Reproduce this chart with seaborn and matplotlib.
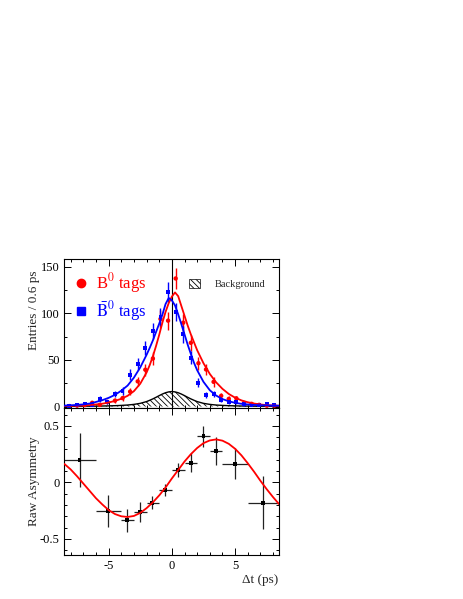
import numpy as np
import pandas as pd
import matplotlib
matplotlib.use("Agg")
import matplotlib.pyplot as plt
from matplotlib.lines import Line2D
from matplotlib.patches import Patch
from matplotlib.ticker import MultipleLocator, FormatStrFormatter
import seaborn as sns

# --- Data ---
# Delta t bin centres (0.6 ps bins)
bin_t = [-8.1, -7.5, -6.9, -6.3, -5.7, -5.1, -4.5, -3.9, -3.3, -2.7, -2.1, -1.5, -0.9, -0.3,
         0.3, 0.9, 1.5, 2.1, 2.7, 3.3, 3.9, 4.5, 5.1, 5.7, 6.3, 6.9, 7.5, 8.1]
b0_counts = [0.5, 1.0, 1.5, 4.0, 1.8, 5.0, 6.3, 9.0, 16.0, 27.0, 39.5, 51.5, 94.0, 92.2,
             137.5, 90.0, 68.4, 46.5, 39.8, 26.5, 11.5, 8.2, 8.8, 3.8, 2.9, 1.8, 1.0, 1.0]
b0_err = [0.7, 1.0, 1.2, 2.0, 1.3, 2.2, 2.5, 3.0, 4.0, 5.2, 6.3, 7.2, 9.7, 9.6,
          11.7, 9.5, 8.3, 6.8, 6.3, 5.1, 3.4, 2.9, 3.0, 1.9, 1.7, 1.3, 1.0, 1.0]
b0bar_counts = [1.0, 1.2, 2.5, 1.5, 8.0, 5.0, 13.3, 17.0, 34.0, 45.5, 62.8, 81.2, 96.1, 123.0,
                101.5, 77.4, 52.5, 25.5, 12.6, 13.4, 7.0, 5.0, 4.5, 2.6, 1.9, 1.3, 2.5, 1.9]
b0bar_err = [1.0, 1.1, 1.6, 1.2, 2.8, 2.2, 3.6, 4.1, 5.8, 6.7, 7.9, 9.0, 9.8, 11.1,
             10.1, 8.8, 7.2, 5.0, 3.5, 3.7, 2.6, 2.2, 2.1, 1.6, 1.4, 1.1, 1.6, 1.4]

# fitted curves
fit_t = [-8.5, -8.0, -7.5, -7.0, -6.5, -6.0, -5.5, -5.0, -4.5, -4.0, -3.5, -3.0, -2.5, -2.0,
         -1.75, -1.5, -1.25, -1.0, -0.75, -0.5, -0.25, 0.0, 0.25, 0.5, 0.75, 1.0, 1.25, 1.5,
         1.75, 2.0, 2.5, 3.0, 3.5, 4.0, 4.5, 5.0, 5.5, 6.0, 6.5, 7.0, 7.5, 8.0, 8.5]
b0_fit = [0.6, 0.7, 0.9, 1.2, 1.6, 2.2, 3.0, 4.3, 6.0, 8.3, 11.5, 16.5, 24.5, 36.5,
          44.5, 54.0, 65.0, 77.0, 90.0, 101.5, 111.0, 118.0, 122.5, 118.5, 108.0, 97.5, 87.0, 77.5,
          69.0, 60.5, 46.5, 35.0, 26.0, 19.0, 13.5, 9.5, 6.6, 4.6, 3.2, 2.2, 1.5, 1.1, 0.8]
b0bar_fit = [1.0, 1.3, 1.7, 2.3, 3.2, 4.9, 6.8, 9.3, 12.5, 17.0, 22.5, 31.0, 42.0, 55.5,
             63.0, 71.0, 80.0, 89.0, 98.5, 110.0, 116.5, 114.0, 108.5, 99.0, 88.5, 77.5, 66.5, 56.5,
             47.0, 39.0, 26.5, 17.5, 11.8, 8.0, 5.6, 4.0, 2.9, 2.2, 1.7, 1.4, 1.2, 1.0, 0.9]
bkg_fit = [0.3, 0.3, 0.3, 0.35, 0.4, 0.45, 0.55, 0.7, 0.9, 1.2, 1.6, 2.3, 3.4, 5.3,
           6.7, 8.2, 9.9, 11.7, 13.4, 14.8, 15.7, 16.1, 15.7, 14.8, 13.4, 11.7, 9.9, 8.2,
           6.7, 5.3, 3.4, 2.3, 1.6, 1.2, 0.9, 0.7, 0.55, 0.45, 0.4, 0.35, 0.3, 0.3, 0.3]

# raw asymmetry, variable-width bins
asym_t = [-7.3, -5.05, -3.55, -2.55, -1.55, -0.53, 0.47, 1.52, 2.5, 3.5, 5.02, 7.23]
asym_lo = [-8.5, -6.0, -4.0, -3.0, -2.0, -1.0, 0.0, 1.0, 2.0, 3.0, 4.0, 6.0]
asym_hi = [-6.0, -4.0, -3.0, -2.0, -1.0, 0.0, 1.0, 2.0, 3.0, 4.0, 6.0, 8.5]
asym = [0.20, -0.253, -0.336, -0.262, -0.181, -0.068, 0.11, 0.176, 0.408, 0.277, 0.164, -0.179]
asym_err = [0.238, 0.138, 0.104, 0.085, 0.057, 0.05, 0.06, 0.085, 0.092, 0.122, 0.137, 0.232]

asym_fit_t = [-8.5, -8.0, -7.5, -7.0, -6.5, -6.0, -5.5, -5.0, -4.5, -4.0, -3.5, -3.0, -2.5, -2.0,
              -1.5, -1.0, -0.5, 0.0, 0.5, 1.0, 1.5, 2.0, 2.5, 3.0, 3.5, 4.0, 4.5, 5.0, 5.5,
              6.0, 6.5, 7.0, 7.5, 8.0, 8.5]
asym_fit = [0.164, 0.115, 0.055, -0.01, -0.075, -0.14, -0.195, -0.245, -0.28, -0.3, -0.306,
            -0.297, -0.27, -0.228, -0.176, -0.115, -0.045, 0.035, 0.11, 0.185, 0.25, 0.305,
            0.348, 0.372, 0.381, 0.37, 0.342, 0.298, 0.24, 0.17, 0.095, 0.015, -0.06, -0.13, -0.195]

RED = "#ff0000"
BLUE = "#0000ff"
HATCH = "\\\\\\\\\\\\"

sns.set_theme(style="ticks")
plt.rcParams["font.family"] = ["Liberation Serif", "DejaVu Serif"]
plt.rcParams["mathtext.fontset"] = "stix"
plt.rcParams["axes.unicode_minus"] = False
plt.rcParams["hatch.linewidth"] = 0.6
plt.rcParams["axes.linewidth"] = 0.8

fig = plt.figure(figsize=(4.63, 5.99), dpi=100)
ax1 = fig.add_axes([0.139, 0.319, 0.463, 0.248])
ax2 = fig.add_axes([0.139, 0.074, 0.463, 0.245])

hist = pd.DataFrame({"t": bin_t, "b0": b0_counts, "b0bar": b0bar_counts})
fits = pd.DataFrame({"t": fit_t, "b0": b0_fit, "b0bar": b0bar_fit, "bkg": bkg_fit})

# --- top panel ---
ax1.fill_between(fits["t"], 0, fits["bkg"], facecolor="none", edgecolor="black",
                 hatch=HATCH, linewidth=0)
sns.lineplot(data=fits, x="t", y="bkg", ax=ax1, color="black", lw=1.0)
ax1.axvline(0, color="black", lw=0.8, zorder=1)

ax1.errorbar(hist["t"], hist["b0"], yerr=b0_err, fmt="none", ecolor=RED, elinewidth=1.0)
sns.scatterplot(data=hist, x="t", y="b0", ax=ax1, color=RED, marker="o", s=10,
                edgecolor="none", zorder=3)
sns.lineplot(data=fits, x="t", y="b0", ax=ax1, color=RED, lw=1.3, zorder=4)

ax1.errorbar(hist["t"], hist["b0bar"], yerr=b0bar_err, fmt="none", ecolor=BLUE, elinewidth=1.0)
sns.scatterplot(data=hist, x="t", y="b0bar", ax=ax1, color=BLUE, marker="s", s=8,
                edgecolor="none", zorder=3)
sns.lineplot(data=fits, x="t", y="b0bar", ax=ax1, color=BLUE, lw=1.3, zorder=4)

ax1.set_xlim(-8.5, 8.45)
ax1.set_ylim(-1.5, 158)
ax1.yaxis.set_major_locator(MultipleLocator(50))
ax1.yaxis.set_minor_locator(MultipleLocator(25))
ax1.set_ylabel("Entries / 0.6 ps", fontsize=9.5)
ax1.yaxis.set_label_coords(-0.115, 0.66)
ax1.set_xlabel("")
ax1.tick_params(labelbottom=False)

leg1 = ax1.legend(
    handles=[Line2D([], [], ls="none", marker="o", color=RED, ms=6),
             Line2D([], [], ls="none", marker="s", color=BLUE, ms=5.5)],
    labels=[r"B$^0$ tags", r"$\bar{\mathrm{B}}^0$ tags"],
    loc="upper left", bbox_to_anchor=(-0.01, 1.0), frameon=False, fontsize=12,
    handlelength=0.8, handletextpad=0.5, labelspacing=0.25, borderaxespad=0.3)
for txt, c in zip(leg1.get_texts(), [RED, BLUE]):
    txt.set_color(c)
ax1.add_artist(leg1)
ax1.legend(handles=[Patch(facecolor="white", edgecolor="black", hatch=HATCH, lw=0.5)],
           labels=["Background"], loc="upper right", bbox_to_anchor=(0.98, 0.93),
           frameon=False, fontsize=7.5, handlelength=1.0, handleheight=0.9, handletextpad=1.4)

# --- bottom panel ---
asym_df = pd.DataFrame({"t": asym_t, "a": asym})
xerr = [np.subtract(asym_t, asym_lo), np.subtract(asym_hi, asym_t)]
ax2.errorbar(asym_df["t"], asym_df["a"], xerr=xerr, yerr=asym_err, fmt="none",
             ecolor="#222222", elinewidth=0.9)
sns.scatterplot(data=asym_df, x="t", y="a", ax=ax2, color="black", marker="s", s=8,
                edgecolor="none", zorder=3)
sns.lineplot(x=asym_fit_t, y=asym_fit, ax=ax2, color=RED, lw=1.3, zorder=4)

ax2.set_xlim(-8.5, 8.45)
ax2.set_ylim(-0.64, 0.66)
ax2.yaxis.set_major_locator(MultipleLocator(0.5))
ax2.yaxis.set_minor_locator(MultipleLocator(0.1))
ax2.yaxis.set_major_formatter(FormatStrFormatter("%g"))
ax2.set_ylabel("Raw Asymmetry", fontsize=9.5)
ax2.yaxis.set_label_coords(-0.115, 0.5)
ax2.set_xlabel("Δt (ps)", fontsize=9.5, loc="right", labelpad=2)

for ax in (ax1, ax2):
    ax.xaxis.set_major_locator(MultipleLocator(5))
    ax.xaxis.set_minor_locator(MultipleLocator(1))
    ax.tick_params(which="both", direction="in", top=True, right=True,
                   labelsize=9, width=0.7, colors="black")
    ax.tick_params(which="major", length=5)
    ax.tick_params(which="minor", length=2.5)
    for s in ax.spines.values():
        s.set_color("black")
        s.set_linewidth(0.8)

fig.savefig("out.png", dpi=100, facecolor="white")
